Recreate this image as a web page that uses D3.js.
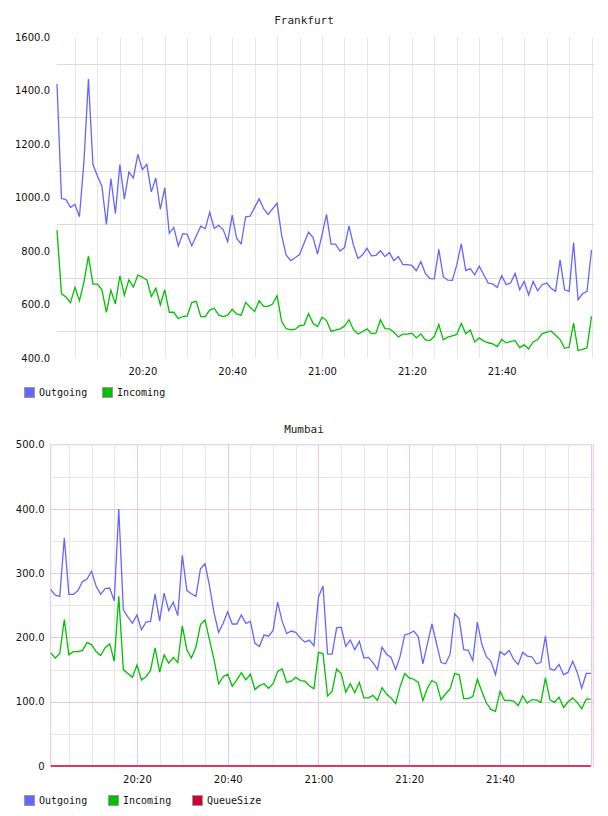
<!DOCTYPE html>
<html>
<head>
<meta charset="utf-8">
<script src="https://cdn.jsdelivr.net/npm/d3@7/dist/d3.min.js"></script>
<style>
  html, body { margin: 0; padding: 0; background: #fff; }
  svg { display: block; }
</style>
</head>
<body>
<svg id="chart" width="608" height="816"></svg>
<script>
// ---------- DATA ----------
const startTime = "20:01";          // first sample, one sample per minute
const sampleCount = 120;

const frankfurtOutgoing = [1424,996,992,963,974,928,1135,1443,1123,1080,1042,899,1071,940,1123,994,1095,1073,1161,1104,
  1124,1021,1073,956,1036,866,888,819,865,862,819,856,893,883,945,884,896,880,835,934,
  847,827,928,930,963,995,958,937,958,978,860,785,764,775,787,829,870,851,788,860,
  937,826,826,800,813,894,822,772,785,810,782,784,801,779,794,764,779,749,749,746,
  727,760,716,697,696,806,704,691,690,748,827,727,734,711,743,711,680,677,664,708,
  674,681,716,655,686,636,686,651,674,680,661,649,767,655,649,832,618,640,649,804];

const frankfurtIncoming = [878,640,628,607,664,614,684,782,676,676,655,571,653,602,707,635,692,665,710,702,
  692,630,661,599,655,571,571,547,555,557,607,612,555,555,579,586,560,555,560,582,
  565,560,608,590,574,614,593,593,602,633,537,510,505,507,521,523,566,530,518,552,
  540,500,504,509,519,543,506,490,498,509,491,493,543,510,509,496,479,489,489,493,
  475,490,468,465,481,525,468,478,483,488,529,491,505,460,475,463,457,453,443,469,
  457,462,465,439,449,434,460,469,491,496,501,485,469,436,440,530,428,432,438,556];

const mumbaiOutgoing = [275,266,264,355,267,267,273,287,291,303,280,267,276,277,257,400,243,232,222,235,
  212,224,225,268,226,269,242,255,234,328,273,268,264,307,315,280,238,208,222,240,
  221,221,235,222,225,191,186,204,202,211,255,225,206,210,208,199,193,196,187,263,
  280,174,174,215,216,186,196,181,194,168,169,161,150,185,174,169,150,171,204,206,
  210,201,159,190,221,191,161,159,174,237,229,181,180,164,224,189,170,163,142,178,
  173,180,166,158,177,171,170,159,161,202,151,149,158,142,146,163,146,121,144,144];

const mumbaiIncoming = [176,168,175,228,173,178,178,180,192,189,178,172,184,190,163,264,150,144,138,157,
  134,139,149,184,146,173,160,169,161,218,181,168,185,220,227,196,165,128,139,143,
  124,134,145,134,143,119,125,128,121,128,147,151,130,132,138,133,132,125,120,177,
  175,109,116,151,144,115,128,114,130,106,106,110,102,122,112,106,97,124,144,137,
  135,130,102,121,133,129,103,112,120,144,142,105,105,108,135,116,98,88,85,116,
  102,102,101,94,109,98,103,103,99,137,103,99,107,91,100,106,99,89,104,104];

const mumbaiQueueSize = [0,0,0,0,0,0,0,0,0,0,0,0,0,0,0,0,0,0,0,0,
  0,0,0,0,0,0,0,0,0,0,0,0,0,0,0,0,0,0,0,0,
  0,0,0,0,0,0,0,0,0,0,0,0,0,0,0,0,0,0,0,0,
  0,0,0,0,0,0,0,0,0,0,0,0,0,0,0,0,0,0,0,0,
  0,0,0,0,0,0,0,0,0,0,0,0,0,0,0,0,0,0,0,0,
  0,0,0,0,0,0,0,0,0,0,0,0,0,0,0,0,0,0,0,0];

const frankfurtYTicks = [400,600,800,1000,1200,1400,1600];
const frankfurtYGrid = [500,700,900,1100,1300,1500];
const mumbaiYTicks = [0,100,200,300,400,500];
const mumbaiYGrid = [50,100,150,200,250,300,350,400,450];
const xTickLabels = ["20:20","20:40","21:00","21:20","21:40"];

const seriesNames = ["Outgoing","Incoming","QueueSize"];
const seriesColors = ["#6666ff","#00c000","#cc0033"];

// ---------- helpers ----------
const parseHM = d3.timeParse("%H:%M");
const t0 = parseHM(startTime);
const times = d3.range(sampleCount).map(i => d3.timeMinute.offset(t0, i));
const tEnd = new Date(t0.getTime() + 119.55 * 60000);
const fmtHM = d3.timeFormat("%H:%M");
const minorTimes = d3.timeMinute.every(5).range(t0, tEnd);
const labelTimes = xTickLabels.map(parseHM);

const svg = d3.select("#chart");
const monoFont = "'DejaVu Sans Mono', monospace";
const sansFont = "'DejaVu Sans', sans-serif";

function drawChart(cfg) {
  const g = svg.append("g");
  const x = d3.scaleTime().domain([t0, tEnd]).range([cfg.left, cfg.right]);
  const y = d3.scaleLinear().domain(cfg.yDomain).range([cfg.bottom, cfg.top]);

  // title
  g.append("text").attr("x", cfg.titleX).attr("y", cfg.titleY)
    .attr("text-anchor", "middle").attr("font-family", monoFont)
    .attr("font-size", 11).attr("fill", "#222").text(cfg.title);

  // vertical grid
  g.append("g").selectAll("line").data(minorTimes).join("line")
    .attr("x1", d => Math.round(x(d)) + 0.5).attr("x2", d => Math.round(x(d)) + 0.5)
    .attr("y1", cfg.top).attr("y2", cfg.bottom)
    .attr("stroke", d => cfg.majorColor && d.getMinutes() % 20 === 0 ? cfg.majorColor : cfg.minorColor)
    .attr("stroke-width", 1);

  // horizontal grid
  g.append("g").selectAll("line").data(cfg.yGrid).join("line")
    .attr("x1", cfg.left).attr("x2", cfg.right)
    .attr("y1", d => Math.round(y(d)) + 0.5).attr("y2", d => Math.round(y(d)) + 0.5)
    .attr("stroke", d => cfg.majorColor && d % 100 === 0 ? cfg.majorColor : cfg.hColor)
    .attr("stroke-width", 1);

  if (cfg.frame) {
    g.append("rect").attr("x", cfg.left).attr("y", cfg.top)
      .attr("width", cfg.right - cfg.left).attr("height", cfg.bottom - cfg.top)
      .attr("fill", "none").attr("stroke", cfg.frame).attr("stroke-width", 1.2);
  }

  // y axis labels
  const yAxis = d3.axisLeft(y).tickValues(cfg.yTicks).tickSize(0).tickPadding(0)
    .tickFormat(d => d === 0 ? "0" : d3.format(".1f")(d));
  const ya = g.append("g").attr("transform", `translate(${cfg.labelRight},0)`).call(yAxis);
  ya.select(".domain").remove();
  ya.selectAll("text").attr("font-family", sansFont).attr("font-size", 10).attr("fill", "#111");

  // x axis labels
  const xAxis = d3.axisBottom(x).tickValues(labelTimes).tickSize(0).tickPadding(0)
    .tickFormat(fmtHM);
  const xa = g.append("g").attr("transform", `translate(0,${cfg.xLabelY})`).call(xAxis);
  xa.select(".domain").remove();
  xa.selectAll("text").attr("font-family", sansFont).attr("font-size", 10).attr("fill", "#111");

  // lines
  const line = d3.line().x((d, i) => x(times[i])).y(d => y(d));
  cfg.series.forEach((s, k) => {
    g.append("path").datum(s).attr("d", line)
      .attr("fill", "none").attr("stroke", seriesColors[k])
      .attr("stroke-width", 1.3).attr("stroke-linejoin", "miter");
  });

  // legend
  const lg = g.append("g");
  cfg.series.forEach((s, k) => {
    const lx = cfg.legendX + k * cfg.legendStep;
    lg.append("rect").attr("x", lx + 0.5).attr("y", cfg.legendY + 0.5)
      .attr("width", 10).attr("height", 10)
      .attr("fill", seriesColors[k]).attr("stroke", "#999").attr("stroke-width", 1);
    lg.append("text").attr("x", lx + 15).attr("y", cfg.legendY + 9)
      .attr("font-family", monoFont).attr("font-size", 10).attr("fill", "#111")
      .text(seriesNames[k]);
  });
}

drawChart({
  title: "Frankfurt", titleX: 304, titleY: 24,
  left: 57, right: 594, top: 37, bottom: 358,
  yDomain: [400, 1600], yTicks: frankfurtYTicks, yGrid: frankfurtYGrid,
  minorColor: "#e6e6e6", hColor: "#dcdcdc", majorColor: null, frame: null,
  labelRight: 50, xLabelY: 368,
  series: [frankfurtOutgoing, frankfurtIncoming],
  legendX: 24, legendY: 387, legendStep: 78
});

drawChart({
  title: "Mumbai", titleX: 304, titleY: 433,
  left: 50.7, right: 593.3, top: 444.7, bottom: 766,
  yDomain: [0, 500], yTicks: mumbaiYTicks, yGrid: mumbaiYGrid,
  minorColor: "#e6e6e6", hColor: "#e6e6e6", majorColor: "#e2c8e2", frame: "#e8d0e8",
  labelRight: 44.5, xLabelY: 776,
  series: [mumbaiOutgoing, mumbaiIncoming, mumbaiQueueSize],
  legendX: 24, legendY: 795, legendStep: 84
});
</script>
</body>
</html>
